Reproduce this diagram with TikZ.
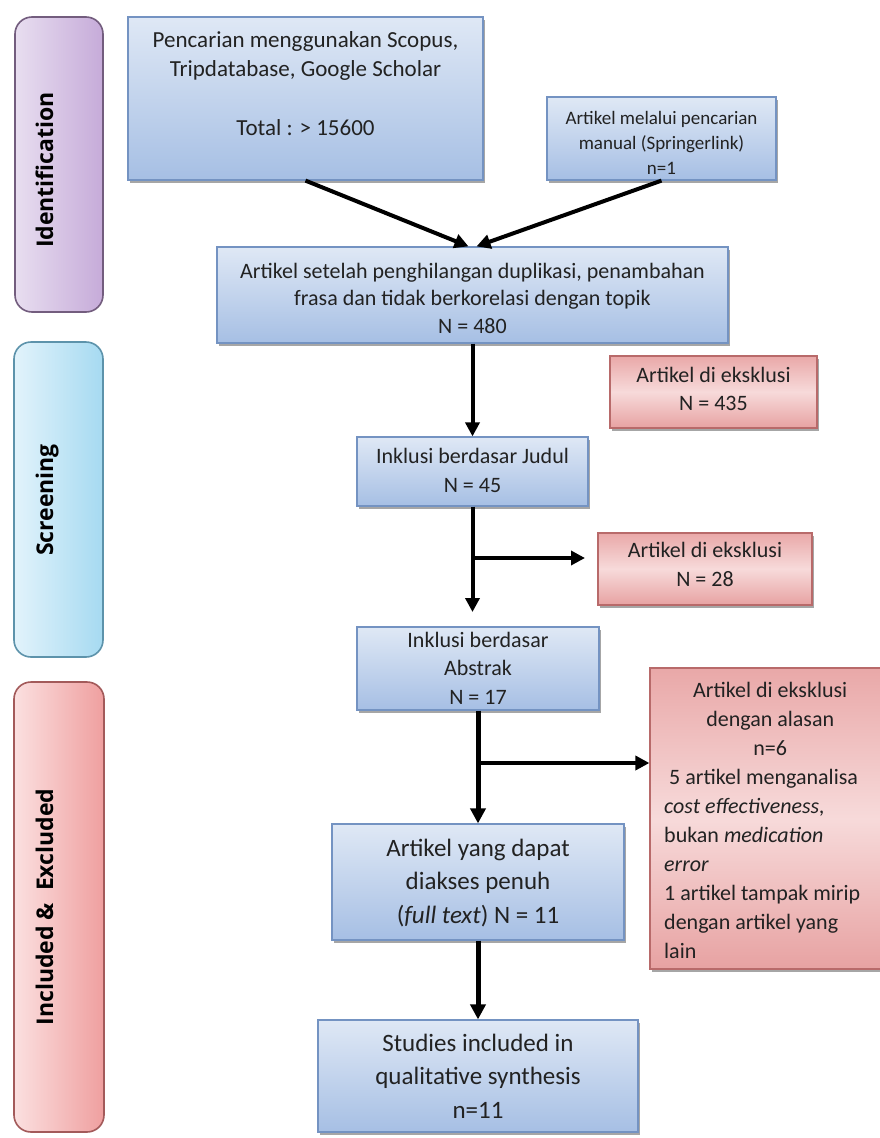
\documentclass[tikz,border=0pt]{standalone}
\usepackage{fontspec}
\setmainfont{Carlito}
\newfontfamily\lblfont{Open Sans}
\usetikzlibrary{arrows.meta,shadows}
\definecolor{bluetop}{HTML}{DFE8F5}
\definecolor{bluebot}{HTML}{A6BFE4}
\definecolor{bluebd}{HTML}{7493C2}
\definecolor{redtop}{HTML}{E9A8A8}
\definecolor{redmid}{HTML}{F7DADA}
\definecolor{redbot}{HTML}{E7A2A2}
\definecolor{redbd}{HTML}{B86A6A}
\definecolor{idl}{HTML}{E8DEF0}
\definecolor{idr}{HTML}{C6ABD9}
\definecolor{idb}{HTML}{735D7E}
\definecolor{scl}{HTML}{E2F3FB}
\definecolor{scr}{HTML}{A6DAF1}
\definecolor{scb}{HTML}{5D93AB}
\definecolor{inl}{HTML}{FBE0E0}
\definecolor{inr}{HTML}{EF9F9F}
\definecolor{inb}{HTML}{A35A5A}
\definecolor{txtc}{HTML}{222222}
\begin{document}
\begin{tikzpicture}[x=1pt,y=-1pt,
  shd/.style={drop shadow={shadow xshift=1.5pt,shadow yshift=-2.5pt,fill=black,opacity=0.35}},
  bluebox/.style={rectangle,draw=bluebd,line width=1.2pt,top color=bluetop,bottom color=bluebot,inner sep=0pt,shd},
  redbox/.style={rectangle,draw=redbd,line width=1.2pt,top color=redtop,bottom color=redbot,middle color=redmid,inner sep=0pt,shd},
  barbox/.style={rectangle,rounded corners=17pt,line width=1.6pt,inner sep=0pt},
  barlbl/.style={font=\lblfont\bfseries\fontsize{23}{28}\selectfont,rotate=90,anchor=base,inner sep=0pt,text=black},
  txt/.style={align=center,anchor=base,inner sep=0pt,text=txtc},
  flow/.style={line width=4pt,-{Triangle[length=14pt,width=14pt]}},
  flowthick/.style={line width=5pt,-{Triangle[length=15pt,width=15pt]}}
]
\useasboundingbox[fill=white] (0,0) rectangle (879,1138);

% phase bars
\node[barbox,draw=idb,left color=idl,right color=idr,minimum width=88pt,minimum height=295pt] (idbar) at (59,164.5) {};
\node[barbox,draw=scb,left color=scl,right color=scr,minimum width=89pt,minimum height=315pt] (scbar) at (58.5,499.5) {};
\node[barbox,draw=inb,left color=inl,right color=inr,minimum width=90pt,minimum height=450pt] (inbar) at (59,907) {};
\node[barlbl] (idtxt) at (53,170) {Identification};
\node[barlbl] (sctxt) at (53,500) {Screening};
\node[barlbl] (intxt) at (53,907) {Included \& \ Excluded};

% boxes
\node[bluebox,minimum width=355pt,minimum height=163pt] (b1) at (305.5,98.5) {};
\node[bluebox,minimum width=229pt,minimum height=83pt] (b2) at (661.5,138.5) {};
\node[bluebox,minimum width=511pt,minimum height=96pt] (b3) at (472.5,295) {};
\node[bluebox,minimum width=231pt,minimum height=69pt] (b4) at (472.5,471.5) {};
\node[bluebox,minimum width=242pt,minimum height=83pt] (b5) at (478,668.5) {};
\node[bluebox,minimum width=292pt,minimum height=116pt] (b6) at (478,882) {};
\node[bluebox,minimum width=320pt,minimum height=112pt] (b7) at (478,1076) {};
\node[redbox,minimum width=207pt,minimum height=72pt] (r1) at (713.5,392) {};
\node[redbox,minimum width=214pt,minimum height=72pt] (r2) at (705,569) {};
\node[redbox,minimum width=250pt,minimum height=301pt] (r3) at (775,818.5) {};

% texts (base = baseline of last line)
\node[txt,font=\fontsize{23}{29.5}\selectfont] (t1) at (305.5,135) {Pencarian menggunakan Scopus,\\Tripdatabase, Google Scholar\\[29pt]Total : > 15600};
\node[txt,font=\fontsize{19}{25}\selectfont] (t2) at (661.5,174.5) {Artikel melalui pencarian\\manual (Springerlink)\\n=1};
\node[txt,font=\fontsize{22}{27.8}\selectfont] (t3) at (472.5,333.6) {Artikel setelah penghilangan duplikasi, penambahan\\frasa dan tidak berkorelasi dengan topik\\N = 480};
\node[txt,font=\fontsize{22}{29}\selectfont] (t4) at (472.5,492) {Inklusi berdasar Judul\\N = 45};
\node[txt,font=\fontsize{22}{28.5}\selectfont] (t5) at (478,704) {Inklusi berdasar\\Abstrak\\N = 17};
\node[txt,font=\fontsize{25}{33.5}\selectfont] (t6) at (478,923) {Artikel yang dapat\\diakses penuh\\(\textit{full text}) N = 11};
\node[txt,font=\fontsize{25}{33.5}\selectfont] (t7) at (478,1118) {Studies included in\\qualitative synthesis\\n=11};
\node[txt,font=\fontsize{22}{28}\selectfont] (tr1) at (713.5,410) {Artikel di eksklusi\\N = 435};
\node[txt,font=\fontsize{22}{29}\selectfont] (tr2) at (705,586) {Artikel di eksklusi\\N = 28};
\node[txt,font=\fontsize{22}{29}\selectfont,align=left,anchor=base west] (tr3) at (664,958) {%
\makebox[212pt]{Artikel di eksklusi}\\
\makebox[212pt]{dengan alasan}\\
\makebox[212pt]{n=6}\\
\ 5 artikel menganalisa\\
\textit{cost effectiveness,}\\
bukan \textit{medication}\\
\textit{error}\\
1 artikel tampak mirip\\
dengan artikel yang\\
lain};

% connectors
\coordinate (c5in) at (472.5,612);
\coordinate (j1) at (472.5,558);
\coordinate (r2in) at (585,558);
\coordinate (j2) at (478,763);
\draw[flow] (b1.south) -- ([xshift=-4pt]b3.north);
\draw[flow] (b2.south) -- ([xshift=4pt]b3.north);
\draw[flow] (b3.south) -- (b4.north);
\draw[flow] (b4.south) -- (c5in);
\draw[flow] (j1) -- (r2in);
\draw[flowthick] (b5.south) -- (b6.north);
\draw[flow] (j2) -- (r3.west |- j2);
\draw[flowthick] (b6.south) -- (b7.north);
\end{tikzpicture}
\end{document}
